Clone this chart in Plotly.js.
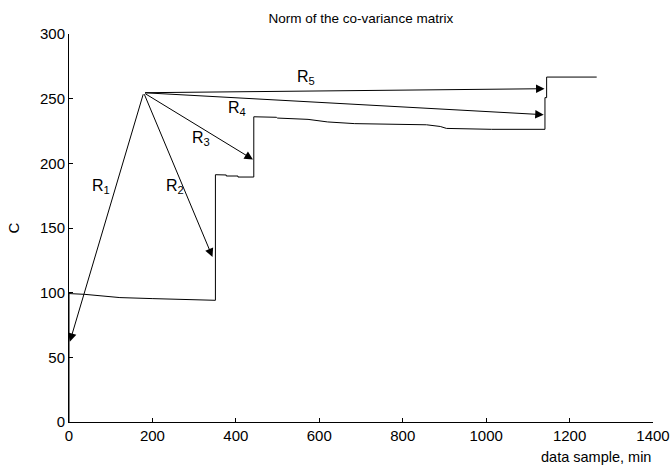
<!DOCTYPE html>
<html><head><meta charset="utf-8">
<script src="https://cdn.plot.ly/plotly-3.0.1.min.js"></script>
<style>html,body{margin:0;padding:0;background:#fff}#chart{width:672px;height:468px}</style>
</head><body><div id="chart"></div>
<script>
// Norm of the co-variance matrix (stepwise curve)
const sampleX = [0, 0, 38, 98, 122, 201, 297, 351, 351, 377, 377, 405, 405, 443, 443, 497, 500, 573, 620, 685, 857, 890, 905, 1013, 1141, 1141, 1145, 1145, 1265];
const normC   = [0, 99.3, 98.7, 97.2, 96.2, 95.4, 94.6, 94.1, 191.2, 191, 190.2, 190.2, 189.4, 189.4, 236, 235.6, 235, 234, 232, 230.7, 229.8, 228.5, 227, 226.3, 226.3, 250.8, 250.8, 266.7, 266.7];

// Arrows R1..R5: common origin and tips
const arrowNames = ['R<sub>1</sub>', 'R<sub>2</sub>', 'R<sub>3</sub>', 'R<sub>4</sub>', 'R<sub>5</sub>'];
const arrowFrom = [179, 254.6];
const arrowTipX = [2, 344, 441, 1138, 1140];
const arrowTipY = [62, 127.6, 203, 237.6, 257.7];
const labelX = [50, 227, 289, 376, 541];
const labelY = [182, 182, 219.5, 242.5, 266.5];

const xTicks = [0, 200, 400, 600, 800, 1000, 1200, 1400];
const yTicks = [0, 50, 100, 150, 200, 250, 300];

const FONT = 'Liberation Sans, Arial, sans-serif';

const annotations = [];
for (let i = 0; i < arrowTipX.length; i++) {
  annotations.push({
    x: arrowTipX[i], y: arrowTipY[i], xref: 'x', yref: 'y',
    ax: arrowFrom[0], ay: arrowFrom[1], axref: 'x', ayref: 'y',
    text: '', showarrow: true, arrowhead: 2, arrowsize: 1.7, arrowwidth: 1,
    arrowcolor: '#000', standoff: 0, startstandoff: 0
  });
  annotations.push({
    x: labelX[i], y: labelY[i], xref: 'x', yref: 'y',
    text: arrowNames[i], showarrow: false, xanchor: 'left', yanchor: 'middle',
    font: {family: FONT, size: 16, color: '#000'}
  });
}
annotations.push({
  x: 1, y: 0, xref: 'paper', yref: 'paper', xanchor: 'right', yanchor: 'top',
  yshift: -25, text: 'data sample, min', showarrow: false,
  font: {family: FONT, size: 14.5, color: '#000'}
});

const trace = {
  x: sampleX, y: normC, type: 'scatter', mode: 'lines',
  line: {color: '#000', width: 1}, hoverinfo: 'skip'
};

const layout = {
  width: 672, height: 468,
  margin: {l: 69, r: 19, t: 34, b: 46},
  paper_bgcolor: '#fff', plot_bgcolor: '#fff',
  showlegend: false,
  title: {text: 'Norm of the co-variance matrix', x: 0.537, xanchor: 'center', y: 0.962, yanchor: 'middle',
          font: {family: FONT, size: 13.5, color: '#000'}},
  xaxis: {range: [0, 1400], tickvals: xTicks, ticktext: xTicks.map(String),
          ticks: 'inside', ticklen: 4, tickcolor: '#000', showline: true, linecolor: '#000', linewidth: 1,
          showgrid: false, zeroline: false, tickfont: {family: FONT, size: 15, color: '#000'}},
  yaxis: {range: [0, 300], tickvals: yTicks, ticktext: yTicks.map(String),
          ticks: 'inside', ticklen: 4, tickcolor: '#000', showline: true, linecolor: '#000', linewidth: 1,
          showgrid: false, zeroline: false, tickfont: {family: FONT, size: 15, color: '#000'},
          title: {text: 'C', standoff: 16, font: {family: FONT, size: 15, color: '#000'}}},
  annotations: annotations
};

Plotly.newPlot('chart', [trace], layout, {staticPlot: true, displayModeBar: false});
</script></body></html>
